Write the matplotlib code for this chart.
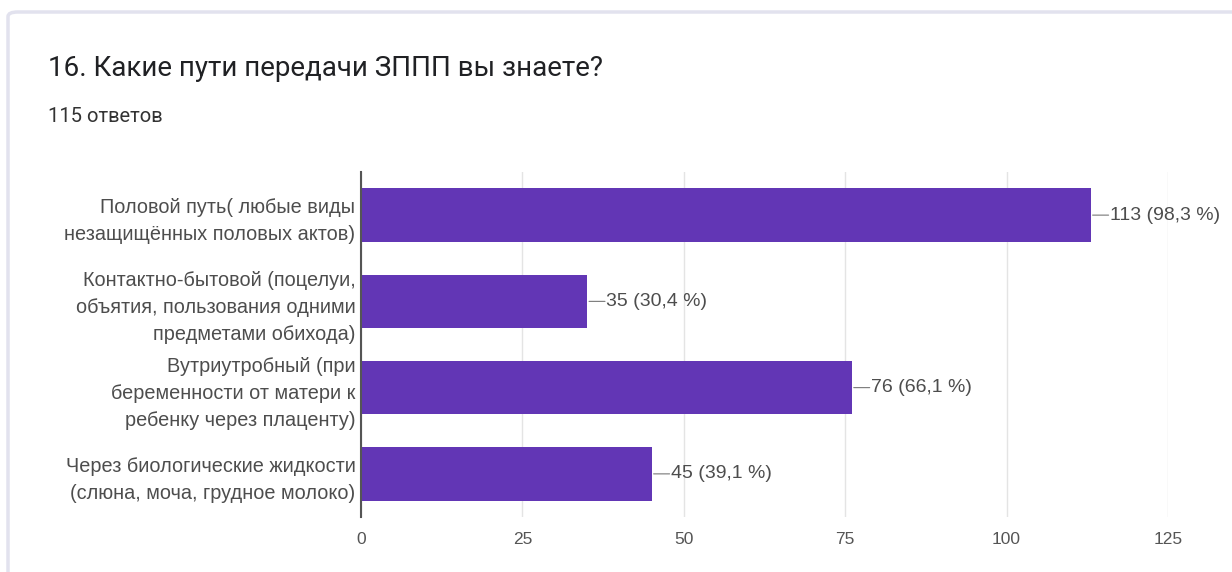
import matplotlib.pyplot as plt
from matplotlib.patches import FancyBboxPatch

# survey answers
categories = [
    "Половой путь( любые виды\nнезащищённых половых актов)",
    "Контактно-бытовой (поцелуи,\nобъятия, пользования одними\nпредметами обихода)",
    "Вутриутробный (при\nбеременности от матери к\nребенку через плаценту)",
    "Через биологические жидкости\n(слюна, моча, грудное молоко)",
]
counts = [113, 35, 76, 45]
percents = ["98,3", "30,4", "66,1", "39,1"]
xticks = [0, 25, 50, 75, 100, 125]

bar_color = "#6236b5"
text_color = "#4d4d4d"
font = "Liberation Sans"

fig = plt.figure(figsize=(12.32, 5.72), dpi=100)
fig.patch.set_facecolor("white")

# card outline
card = FancyBboxPatch((8 / 1232, -0.05), 1.1, (572 - 12) / 572 + 0.05,
                      boxstyle="round,pad=0,rounding_size=0.008",
                      transform=fig.transFigure, facecolor="white",
                      edgecolor="#e2e2ee", linewidth=2.5, zorder=0)
fig.patches.append(card)

fig.text(48 / 1232, 1 - 68 / 572, "16. Какие пути передачи ЗППП вы знаете?",
         family="Roboto", fontsize=20, color="#202124", va="center")
fig.text(48 / 1232, 1 - 117 / 572, "115 ответов",
         family="Roboto", fontsize=14.5, color="#333333", va="center")

ax = fig.add_axes([361 / 1232, 55 / 572, (1168 - 361) / 1232, (517 - 172) / 572])
ax.set_zorder(2)
ypos = list(range(len(categories)))
ax.barh(ypos, counts, height=0.62, color=bar_color, zorder=3)

ax.set_xlim(0, 125)
ax.set_ylim(len(categories) - 0.5, -0.5)
ax.set_xticks(xticks)
ax.set_xticklabels([str(t) for t in xticks], family=font, fontsize=12.5, color="#555555")
ax.set_yticks(ypos)
ax.set_yticklabels(categories, family=font, fontsize=14.3, color=text_color,
                   linespacing=1.52)
ax.tick_params(axis="both", length=0, pad=4)
ax.tick_params(axis="x", pad=11)

ax.grid(axis="x", color="#e4e4e4", linewidth=1, zorder=0)
for side in ["top", "right", "bottom"]:
    ax.spines[side].set_visible(False)
ax.spines["left"].set_color("#555555")
ax.spines["left"].set_linewidth(1.5)
ax.spines["left"].set_zorder(4)

# value labels with short leader lines
for y, c, p in zip(ypos, counts, percents):
    ax.annotate("", xy=(c, y), xytext=(13, 0), textcoords="offset points",
                arrowprops=dict(arrowstyle="-", color="#777777", lw=0.8,
                                shrinkA=0, shrinkB=1.5))
    ax.annotate(f"{c} ({p} %)", xy=(c, y), xytext=(14, 0), textcoords="offset points",
                va="center", ha="left", family=font, fontsize=14, color=text_color)

fig.savefig("out.png", dpi=100)
